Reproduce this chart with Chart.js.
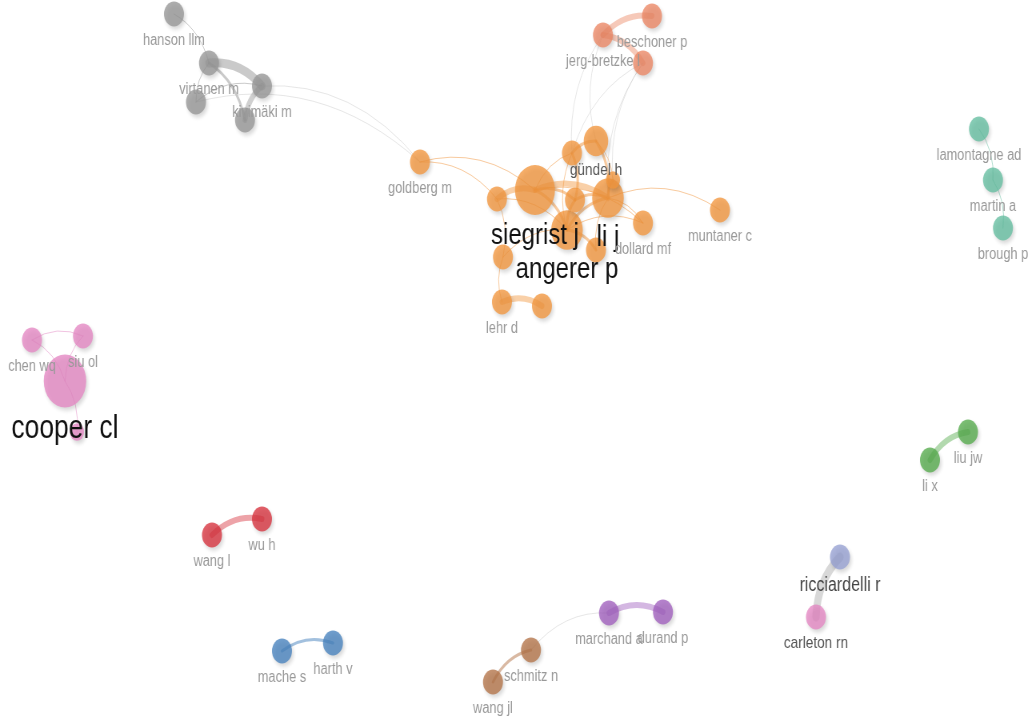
<!DOCTYPE html>
<html>
<head>
<meta charset="utf-8">
<script src="https://cdn.jsdelivr.net/npm/chart.js@4.4.1/dist/chart.umd.min.js"></script>
<style>
html,body{margin:0;padding:0;overflow:hidden;background:#fff;width:1032px;height:725px}
#wrap{position:absolute;left:0;top:0;width:1290px;height:725px;transform:scaleX(0.8);transform-origin:0 0}
</style>
</head>
<body>
<div id="wrap"><canvas id="c"></canvas></div>
<script>
// ---- data: co-authorship map ----
const nodeLabels = [
  'siegrist j','li j','angerer p','gündel h','','','','','','','dollard mf','muntaner c','goldberg m','lehr d','',
  'hanson llm','virtanen m','kivimäki m','','',
  'jerg-bretzke l','beschoner p','',
  'lamontagne ad','martin a','brough p',
  'chen wq','siu ol','cooper cl','',
  'liu jw','li x',
  'wang l','wu h',
  'mache s','harth v',
  'marchand a','durand p',
  'schmitz n','wang jl',
  'ricciardelli r','carleton rn'
];
const nodeX = [535,608,567,596,572,613,575,497,503,596,643,720,420,502,542,
  174,209,262,196,245,
  603,652,643,
  979,993,1003,
  32,83,65,77,
  968,930,
  212,262,
  282,333,
  609,663,
  531,493,
  840,816];
const nodeY = [190,198,230,141,153,180,200,199,257,250,223,210,162,302,306,
  14,63,86,102,120,
  35,16,63,
  129,180,228,
  340,336,381,432,
  432,460,
  535,519,
  651,643,
  613,612,
  650,682,
  557,617];
const nodeWeight = [8,5,5,3,2,1,2,2,2,2,2,2,2,2,2,
  2,2,2,2,2,
  2,2,2,
  2,2,2,
  2,2,9,1,
  2,2,
  2,2,
  2,2,
  2,2,
  2,2,
  2,2];
const nodeCluster = [0,0,0,0,0,0,0,0,0,0,0,0,0,0,0,
  1,1,1,1,1,
  2,2,2,
  3,3,3,
  4,4,4,4,
  5,5,
  6,6,
  7,7,
  8,8,
  9,9,
  10,11];
// links: [from, to, strength]
const links = [
  [0,1,3],[0,7,3],[0,2,2],[0,6,2],[1,2,2],[1,6,2],[1,3,2],[1,5,2],[3,4,2],[3,5,1],
  [4,6,2],[4,2,1],[2,9,2],[1,9,1],[7,8,1],[8,13,1],[7,2,1],[13,14,3],[0,12,1],[7,12,1],
  [1,11,1],[1,10,1],[0,10,1],[2,10,1],[6,2,2],[8,2,1],[0,4,1],
  [20,21,3],[20,22,3],[20,4,1],[20,3,1],[22,4,1],[22,1,1],[22,5,1],
  [15,16,1],[16,17,4],[17,19,3],[16,19,2],[16,18,1],[18,17,1],[18,12,1],[17,12,1],
  [23,24,1],[24,25,1],
  [26,27,1],[26,28,1],[27,28,1],[28,29,1],
  [31,30,3],[32,33,3],[34,35,2],[36,37,3],[39,38,2],[38,36,1],[41,40,4]
];

// ---- styles ----
const clusterRGB = [
  [242,150,62],[150,150,150],[236,135,100],[100,190,160],[228,135,195],[85,170,75],
  [215,50,62],[70,130,190],[160,95,190],[180,115,72],[150,160,210],[228,135,195]
];
const nodeAlpha = 0.78;
const labelStyle = {
  'siegrist j':[30,'#111'], 'li j':[30,'#111'], 'angerer p':[30,'#111'], 'cooper cl':[33,'#111'],
  'ricciardelli r':[20,'#444'], 'carleton rn':[17,'#555'], 'gündel h':[17,'#555']
};
const defaultLabel = [16,'#999'];
const FONT = '"Liberation Sans", Arial, sans-serif';
const radius = w => 12.5*Math.sqrt(w/2);
const rgba = (c,a) => `rgba(${c[0]},${c[1]},${c[2]},${a})`;

const datasets = clusterRGB.map((col,c) => ({
  label: 'cluster ' + (c+1),
  data: nodeX.map((x,i) => ({x:x, y:nodeY[i], r:radius(nodeWeight[i]), idx:i})).filter(p => nodeCluster[p.idx] === c),
  backgroundColor: rgba(col, nodeAlpha),
  borderWidth: 0,
  hoverRadius: 0,
  clip: false
}));

const edgePlugin = {
  id: 'edges',
  beforeDatasetsDraw(chart) {
    const ctx = chart.ctx, sx = chart.scales.x, sy = chart.scales.y;
    ctx.save();
    ctx.lineCap = 'round';
    links.forEach(([a,b,s]) => {
      if (nodeX[a] > nodeX[b]) { const t = a; a = b; b = t; }
      const x1 = sx.getPixelForValue(nodeX[a]), y1 = sy.getPixelForValue(nodeY[a]);
      const x2 = sx.getPixelForValue(nodeX[b]), y2 = sy.getPixelForValue(nodeY[b]);
      const dx = x2-x1, dy = y2-y1;
      const cx = (x1+x2)/2 + dy*0.22, cy = (y1+y2)/2 - dx*0.22;
      const same = nodeCluster[a] === nodeCluster[b];
      const col = same ? clusterRGB[nodeCluster[a]] : [190,190,190];
      const widths = [0,1,3,6,9];
      const alphas = [0,0.5,0.5,0.45,0.5];
      ctx.strokeStyle = rgba(col, same ? alphas[s] : (s > 2 ? 0.6 : 0.38));
      ctx.lineWidth = widths[s];
      ctx.beginPath();
      ctx.moveTo(x1,y1);
      ctx.quadraticCurveTo(cx,cy,x2,y2);
      ctx.stroke();
    });
    ctx.restore();
  },
  beforeDatasetDraw(chart) {
    const ctx = chart.ctx;
    ctx.save();
    ctx.shadowColor = 'rgba(0,0,0,0.2)';
    ctx.shadowBlur = 4;
    ctx.shadowOffsetX = 2;
    ctx.shadowOffsetY = 3;
  },
  afterDatasetDraw(chart) {
    chart.ctx.restore();
  },
  afterDatasetsDraw(chart) {
    const ctx = chart.ctx, sx = chart.scales.x, sy = chart.scales.y;
    ctx.save();
    ctx.textAlign = 'center';
    ctx.textBaseline = 'alphabetic';
    nodeLabels.forEach((lab,i) => {
      if (!lab) return;
      const st = labelStyle[lab] || defaultLabel;
      const px = sx.getPixelForValue(nodeX[i]);
      const py = sy.getPixelForValue(nodeY[i]) + radius(nodeWeight[i]) + 6 + st[0]*0.75;
      ctx.font = `${st[0]}px ${FONT}`;
      ctx.fillStyle = st[1];
      ctx.fillText(lab, px, py);
    });
    ctx.restore();
  }
};

new Chart(document.getElementById('c'), {
  type: 'bubble',
  data: { datasets },
  options: {
    responsive: true,
    maintainAspectRatio: false,
    animation: false,
    events: [],
    layout: { padding: 0, autoPadding: false },
    plugins: { legend: { display: false }, tooltip: { enabled: false } },
    scales: {
      x: { type: 'linear', min: 0, max: 1032, display: false },
      y: { type: 'linear', min: 0, max: 725, reverse: true, display: false }
    }
  },
  plugins: [edgePlugin]
});
</script>
</body>
</html>
